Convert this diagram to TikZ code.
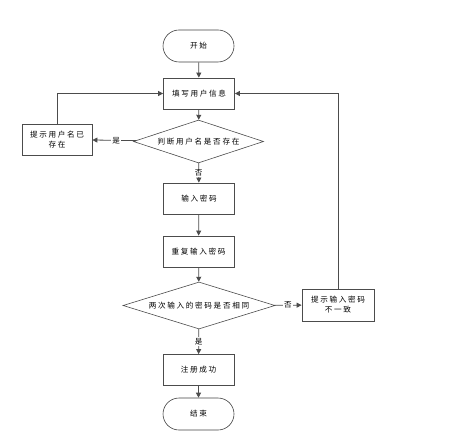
\documentclass[tikz,border=0pt]{standalone}
\usepackage{fontspec}
\usetikzlibrary{shapes.geometric,arrows.meta}
\newfontfamily\cjk[LetterSpace=22]{Noto Sans CJK SC}
\tikzset{
  base/.style={font=\cjk\fontsize{7.6}{10}\selectfont, text=black, inner sep=0pt, align=center},
  procbox/.style={base, draw=black!70, line width=0.8pt, minimum width=71pt, minimum height=31pt},
  term/.style={base, draw=black!75, line width=0.6pt, rounded rectangle, minimum width=71pt, minimum height=32pt},
  decide/.style={base, draw=black!70, line width=0.6pt, diamond, aspect=3, inner sep=0pt},
  conn/.style={draw=black!70, line width=0.8pt, -{Triangle[length=5pt,width=5pt]}},
  lbl/.style={base, fill=white, inner sep=1pt}
}
\usetikzlibrary{shapes.misc}
\begin{document}
\begin{tikzpicture}[x=1pt,y=-1pt]
\useasboundingbox (0,0) rectangle (454,435);
\node[term] (start) at (198.5,46) {开始};
\node[procbox] (fill) at (199,93.5) {填写用户信息};
\node[decide, minimum width=130pt, minimum height=43pt] (d1) at (198.5,141.5) {判断用户名是否存在};
\node[procbox, minimum width=70pt] (exist) at (57,139.5) {提示用户名已\\存在};
\node[procbox] (pwd) at (199,198.5) {输入密码};
\node[procbox] (rep) at (198.5,251.5) {重复输入密码};
\node[decide, minimum width=152pt, minimum height=47pt] (d2) at (199,305.5) {两次输入的密码是否相同};
\node[procbox, minimum width=72pt, minimum height=32pt] (diff) at (338,305) {提示输入密码\\不一致};
\node[procbox] (ok) at (198.5,370) {注册成功};
\node[term] (end) at (198.5,414) {结束};

\draw[conn] (start) -- (fill);
\draw[conn] (fill) -- (d1);
\draw[conn] (d1) -- node[lbl, pos=0.45] {是} (exist);
\draw[conn] (d1) -- node[lbl, pos=0.5] {否} (pwd);
\draw[conn] (pwd) -- (rep);
\draw[conn] (rep) -- (d2);
\draw[conn] (d2) -- node[lbl, pos=0.5] {否} (diff);
\draw[conn] (d2) -- node[lbl, pos=0.5] {是} (ok);
\draw[conn] (ok) -- (end);
\draw[conn] (exist.north) |- (fill.west);
\draw[conn] (diff.north) |- (fill.east);
\end{tikzpicture}
\end{document}
